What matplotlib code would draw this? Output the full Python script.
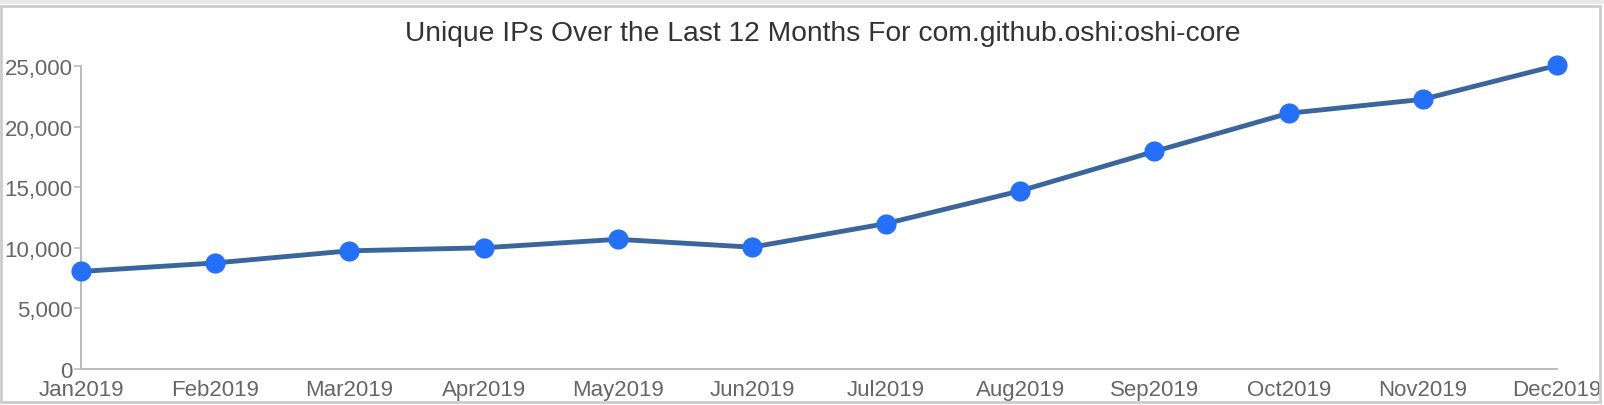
import matplotlib
matplotlib.use("Agg")
from matplotlib import pyplot as plt
from matplotlib.patches import Rectangle
from matplotlib.ticker import FuncFormatter

months = ['Jan2019', 'Feb2019', 'Mar2019', 'Apr2019', 'May2019', 'Jun2019',
          'Jul2019', 'Aug2019', 'Sep2019', 'Oct2019', 'Nov2019', 'Dec2019']
unique_ips = [8050, 8750, 9750, 10000, 10700, 10050,
              12000, 14700, 17950, 21100, 22250, 25050]
y_ticks = [0, 5000, 10000, 15000, 20000, 25000]

plt.rcParams['font.family'] = ['Liberation Sans', 'DejaVu Sans']

W, H = 1604, 406
fig = plt.figure(figsize=(W / 100, H / 100), dpi=100)

# outer frame like the page panel
fig.patches.append(Rectangle((1 / W, 3 / H), 1599 / W, 396 / H, transform=fig.transFigure,
                             fill=False, edgecolor='#cccccc', lw=2))
fig.patches.append(Rectangle((0, (H - 5) / H), 1, 5 / H, transform=fig.transFigure,
                             facecolor='#e8e8e8', edgecolor='none'))

ax = fig.add_axes([81 / W, (H - 370) / H, (1557 - 81) / W, (370 - 67) / H])
x = list(range(len(months)))
ax.plot(x, unique_ips, color='#3a669c', lw=3.5, zorder=2, solid_capstyle='round')
ax.plot(x, unique_ips, 'o', color='#2470fa', ms=14.5, mec='none', zorder=3, clip_on=False)

ax.set_xlim(0, len(months) - 1)
ax.set_ylim(0, 25000)
ax.set_xticks(x)
ax.set_xticklabels(months)
ax.set_yticks(y_ticks)
ax.yaxis.set_major_formatter(FuncFormatter(lambda v, p: f'{int(v):,}'))

for s in ['top', 'right']:
    ax.spines[s].set_visible(False)
for s in ['left', 'bottom']:
    ax.spines[s].set_color('#bbbbbb')
    ax.spines[s].set_linewidth(1.4)

ax.tick_params(axis='x', length=0, pad=7, labelsize=16, labelcolor='#666666')
ax.tick_params(axis='y', length=5, width=1.2, color='#bbbbbb', pad=1,
               labelsize=16, labelcolor='#666666')

fig.text(823 / W, (H - 34) / H, 'Unique IPs Over the Last 12 Months For com.github.oshi:oshi-core',
         ha='center', va='center', fontsize=20.3, color='#333333')

fig.savefig('out.png', dpi=100)
